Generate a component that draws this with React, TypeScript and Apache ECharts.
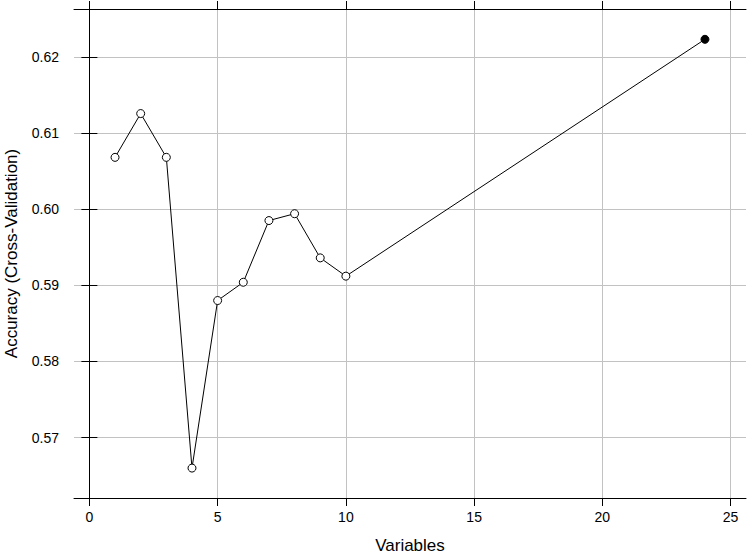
import React, { useEffect, useRef } from "react";
import * as echarts from "echarts";

const variables = [1, 2, 3, 4, 5, 6, 7, 8, 9, 10, 24];
const accuracy = [0.6068, 0.61255, 0.6068, 0.566, 0.588, 0.5904, 0.5985, 0.5994, 0.5936, 0.5912, 0.6223];
const xTicks = [0, 5, 10, 15, 20, 25];
const yTicks = [0.57, 0.58, 0.59, 0.6, 0.61, 0.62];

const FONT = "Liberation Sans, Arial, Helvetica, sans-serif";

export default function App() {
  const ref = useRef<HTMLDivElement>(null);
  useEffect(() => {
    if (!ref.current) return;
    const chart = echarts.init(ref.current, undefined, { renderer: "svg" });
    const best = accuracy.indexOf(Math.max(...accuracy));
    const data = variables.map((x, i) =>
      i === best
        ? { value: [x, accuracy[i]], itemStyle: { color: "#000", borderColor: "#000", borderWidth: 1 } }
        : { value: [x, accuracy[i]] }
    );
    const xMin = -0.6, xMax = 25.6, yMin = 0.56207, yMax = 0.62628;
    const axisLine = { show: true, lineStyle: { color: "#000", width: 1 } };
    const grid = { color: "#c2c2c2", width: 1 };
    const tick = (vals: number[]) => ({
      show: true,
      length: 8,
      inside: false,
      customValues: vals,
      lineStyle: { color: "#000", width: 1 },
    });
    chart.setOption({
      animation: false,
      backgroundColor: "#fff",
      grid: { left: 74, right: 9, top: 9, bottom: 57, containLabel: false, outerBoundsMode: "none" },
      xAxis: [
        {
          type: "value",
          position: "bottom",
          min: xMin,
          max: xMax,
          axisLine,
          axisTick: tick(xTicks),
          axisLabel: { customValues: xTicks, margin: 12, color: "#000", fontSize: 14, fontFamily: FONT },
          splitLine: { show: true, lineStyle: grid },
          name: "Variables",
          nameLocation: "middle",
          nameGap: 39,
          nameTextStyle: { color: "#000", fontSize: 17, fontFamily: FONT },
        },
        {
          type: "value",
          position: "top",
          min: xMin,
          max: xMax,
          axisLine,
          axisTick: tick(xTicks),
          axisLabel: { show: false },
          splitLine: { show: false },
        },
      ],
      yAxis: [
        {
          type: "value",
          position: "left",
          min: yMin,
          max: yMax,
          axisLine,
          axisTick: tick(yTicks),
          axisLabel: {
            customValues: yTicks,
            margin: 15,
            color: "#000",
            fontSize: 14,
            fontFamily: FONT,
            formatter: (v: number) => v.toFixed(2),
          },
          splitLine: { show: true, lineStyle: grid },
          name: "Accuracy (Cross-Validation)",
          nameLocation: "middle",
          nameGap: 54,
          nameTextStyle: { color: "#000", fontSize: 17, fontFamily: FONT },
        },
        {
          type: "value",
          position: "right",
          min: yMin,
          max: yMax,
          axisLine,
          axisTick: tick(yTicks),
          axisLabel: { show: false },
          splitLine: { show: false },
        },
      ],
      series: [
        {
          type: "line",
          xAxisIndex: 0,
          yAxisIndex: 0,
          data,
          symbol: "circle",
          symbolSize: 8,
          lineStyle: { color: "#000", width: 1 },
          itemStyle: { color: "#fff", borderColor: "#000", borderWidth: 1 },
        },
      ],
    });
    return () => chart.dispose();
  }, []);
  return <div ref={ref} style={{ position: "fixed", left: 0, top: 0, width: 755, height: 555 }} />;
}
